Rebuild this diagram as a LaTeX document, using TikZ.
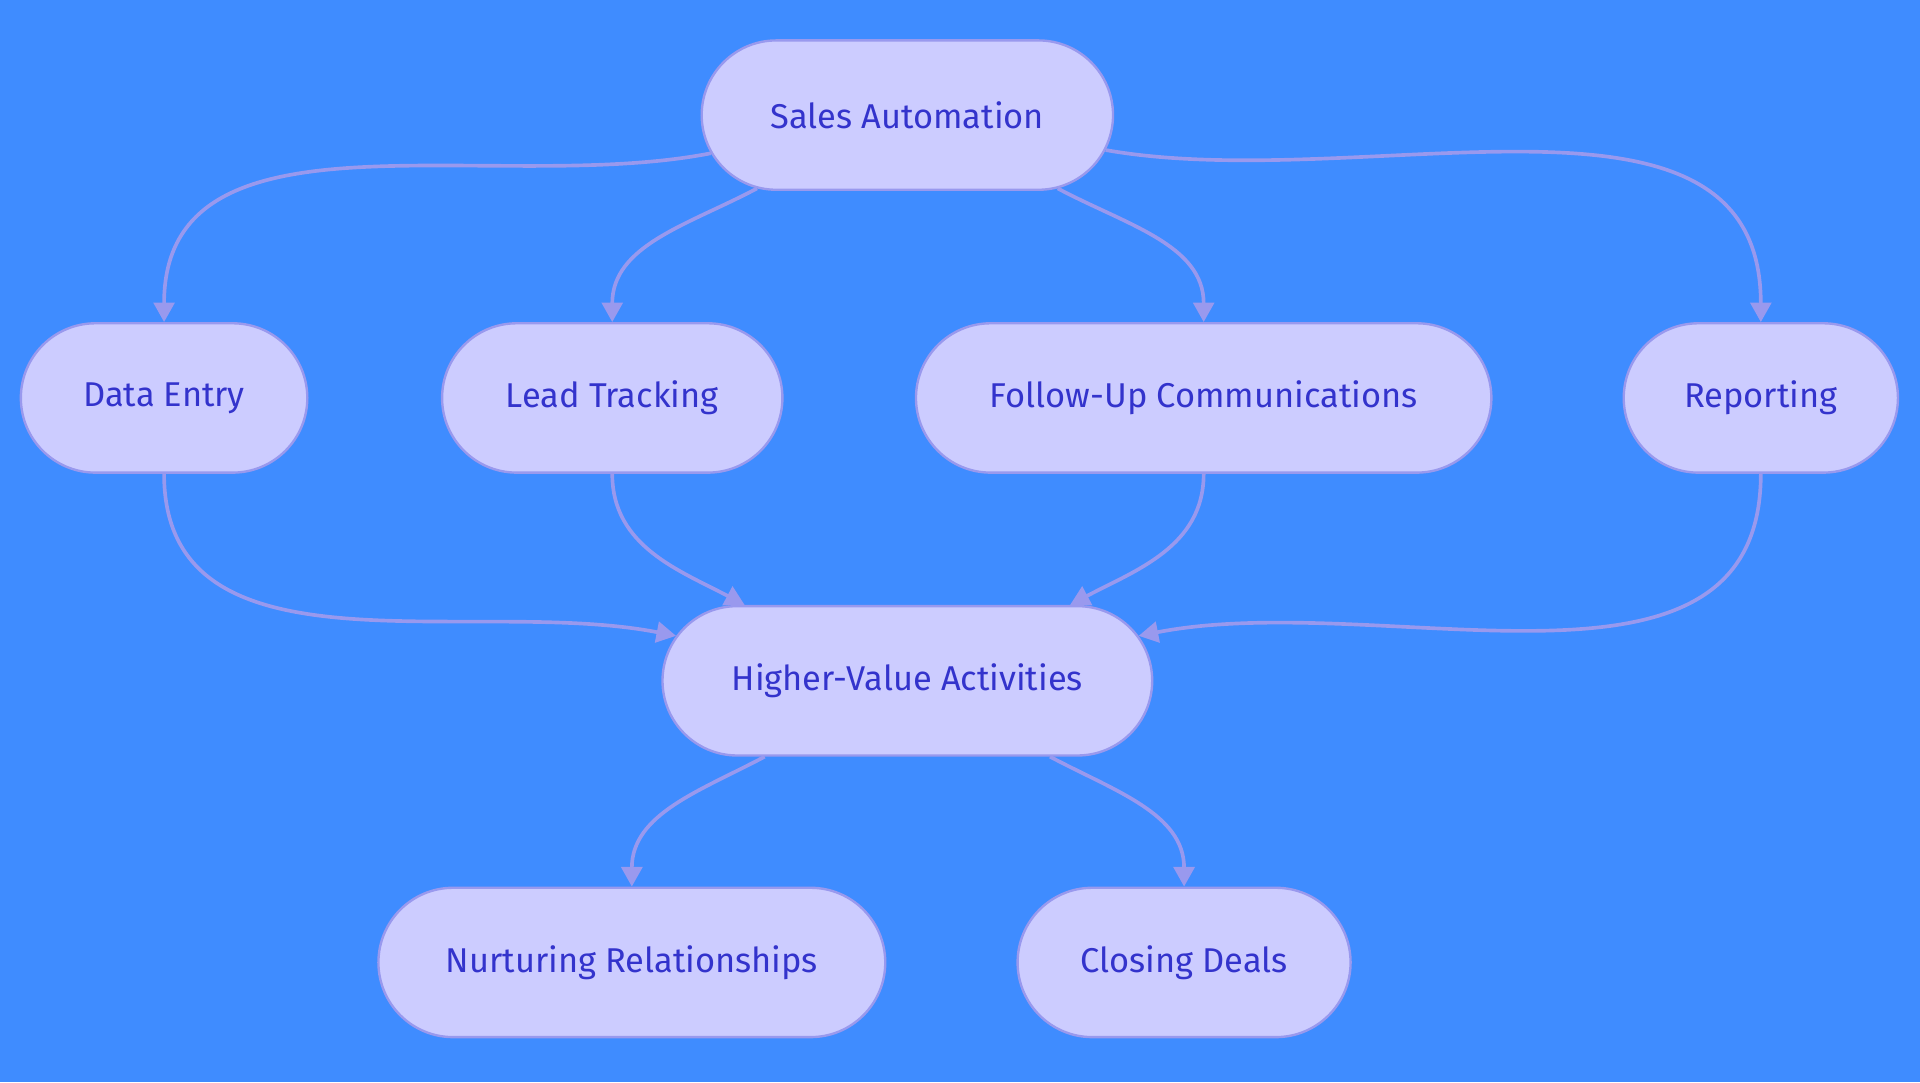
\documentclass[tikz,border=0pt]{standalone}
\usepackage{fontspec}
\setmainfont{Fira Sans}
\usepackage{tikz}
\usetikzlibrary{positioning, arrows.meta, shapes.misc}
\definecolor{bgblue}{HTML}{3F8CFF}
\definecolor{boxfill}{HTML}{CCCCFF}
\definecolor{boxline}{HTML}{9999EE}
\definecolor{boxtext}{HTML}{3333CC}
\tikzstyle{box}=[draw=boxline, fill=boxfill, line width=1.1pt, shape=rounded rectangle, minimum height=2.44cm, text=boxtext, font=\fontsize{16}{19}\selectfont, inner sep=0pt]
\tikzstyle{edge}=[draw=boxline, line width=1.7pt, -{Triangle[length=0.32cm, width=0.34cm]}]

\begin{document}
\begin{tikzpicture}[x=0.02cm, y=-0.02cm]
\fill[bgblue] (0,0) rectangle (1568,884);
\useasboundingbox (0,0) rectangle (1568,884);
\node[box, minimum width=6.72cm] (sa) at (741,94) {Sales Automation};
\node[box, minimum width=4.68cm] (de) at (134,325) {Data Entry};
\node[box, minimum width=5.56cm] (lt) at (500,325) {Lead Tracking};
\node[box, minimum width=9.40cm] (fu) at (983,325) {Follow-Up Communications};
\node[box, minimum width=4.48cm] (rp) at (1438,325) {Reporting};
\node[box, minimum width=8.00cm] (hv) at (741,556) {Higher-Value Activities};
\node[box, minimum width=8.28cm] (nr) at (516,786) {Nurturing Relationships};
\node[box, minimum width=5.44cm] (cd) at (967,786) {Closing Deals};
% top fan
\draw[edge] (sa.191) to[out=191, in=90] (de.north);
\draw[edge] (sa.206) to[out=208, in=90] (lt.north);
\draw[edge] (sa.334) to[out=-28, in=90] (fu.north);
\draw[edge] (sa.350) to[out=-10, in=90] (rp.north);
% into higher-value
\draw[edge] (de.south) to[out=270, in=169] (hv.169);
\draw[edge] (lt.south) to[out=270, in=152] (hv.155);
\draw[edge] (fu.south) to[out=270, in=28] (hv.25);
\draw[edge] (rp.south) to[out=270, in=11] (hv.11);
% bottom
\draw[edge] (hv.208) to[out=208, in=90] (nr.north);
\draw[edge] (hv.332) to[out=-28, in=90] (cd.north);
\end{tikzpicture}
\end{document}
